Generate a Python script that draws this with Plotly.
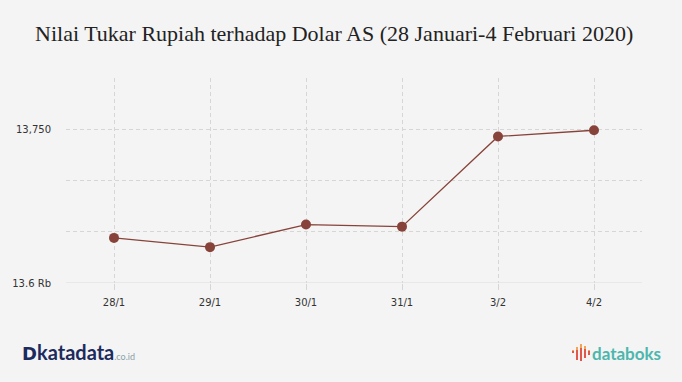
import plotly.graph_objects as go

categories = ["28/1", "29/1", "30/1", "31/1", "3/2", "4/2"]
values = [13644, 13635, 13657, 13655, 13743, 13749]
y_tickvals = [13600, 13650, 13700, 13750, 13800]
y_ticktext = ["13.6 Rb", "", "", "13,750", ""]

title_text = "Nilai Tukar Rupiah terhadap Dolar AS (28 Januari-4 Februari 2020)"

W, H = 682, 382
ML, MR, MT, MB = 66, 40, 78, 99
PW, PH = W - ML - MR, H - MT - MB


def px(x):
    return (x - ML) / PW


def py(y):
    return (H - MB - y) / PH


fig = go.Figure()
fig.add_trace(go.Scatter(
    x=categories, y=values, mode="lines+markers",
    line=dict(color="#87433a", width=1.3),
    marker=dict(color="#87433a", size=10),
    hoverinfo="x+y",
))

fig.update_layout(
    width=W, height=H,
    paper_bgcolor="#f4f4f4", plot_bgcolor="#f4f4f4",
    margin=dict(l=ML, r=MR, t=MT, b=MB),
    showlegend=False,
    title=dict(text=title_text, x=0.49, xanchor="center", y=1 - 33 / H, yanchor="middle",
               font=dict(family="Liberation Serif", size=22, color="#222222")),
    font=dict(family="DejaVu Sans", size=10, color="#333333"),
)
fig.update_xaxes(
    type="category", range=[-0.5, 5.5],
    showgrid=True, gridcolor="#d6d6d6", griddash="4px,3px", gridwidth=1,
    showline=False, zeroline=False,
    ticks="outside", ticklen=6, tickcolor="#d6d6d6", tickwidth=1,
    ticklabelstandoff=4,
    tickfont=dict(family="DejaVu Sans", size=10, color="#333333"),
)
fig.update_yaxes(
    range=[13600, 13800], tickvals=y_tickvals, ticktext=y_ticktext,
    showgrid=True, gridcolor="#d6d6d6", griddash="4px,3px", gridwidth=1,
    showline=False, zeroline=False, ticks="",
    ticklabelstandoff=14,
    tickfont=dict(family="DejaVu Sans", size=10, color="#333333"),
)
# bottom baseline (solid)
fig.add_shape(type="line", xref="paper", yref="y", x0=0, x1=1, y0=13600, y1=13600,
              line=dict(color="#dcdcdc", width=1))

# katadata logo
fig.add_annotation(xref="paper", yref="paper", x=px(20), y=py(353), xanchor="left", yanchor="middle",
                   text="<b>D</b>", showarrow=False,
                   font=dict(family="DejaVu Sans", size=18, color="#1c2b5c"))
fig.add_annotation(xref="paper", yref="paper", x=px(35), y=py(352), xanchor="left", yanchor="middle",
                   text="<b>katadata</b><span style='font-size:9px;color:#8aa0a8'>.co.id</span>",
                   showarrow=False,
                   font=dict(family="Lato", size=20, color="#1c2b5c"))

# databoks logo icon (decorative bars: x, top, mid, bottom)
icon_bars = [(572, 350, 351, 353), (576, 347, 350, 360), (580, 344, 348, 361),
             (584, 346, 349, 358), (588, 350, 351, 355)]
for x0, top, mid, bot in icon_bars:
    fig.add_shape(type="rect", xref="paper", yref="paper",
                  x0=px(x0), x1=px(x0 + 2), y0=py(mid), y1=py(top),
                  line=dict(width=0), fillcolor="#f2a552")
    fig.add_shape(type="rect", xref="paper", yref="paper",
                  x0=px(x0), x1=px(x0 + 2), y0=py(bot), y1=py(mid),
                  line=dict(width=0), fillcolor="#e2574c")
fig.add_annotation(xref="paper", yref="paper", x=px(590), y=py(353), xanchor="left", yanchor="middle",
                   text="<b>databoks</b>", showarrow=False,
                   font=dict(family="Lato", size=17, color="#4db6ad"))

fig.write_html("out.html", config={"displayModeBar": False},
               post_script="document.body.style.margin='0';document.body.style.background='#f4f4f4';")
